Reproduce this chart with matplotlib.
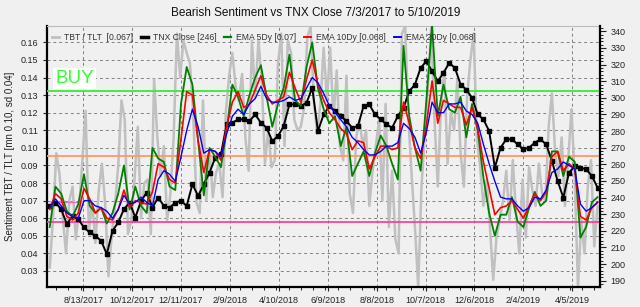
import matplotlib
matplotlib.use("Agg")
import matplotlib.pyplot as plt
import matplotlib.dates as mdates
from matplotlib.lines import Line2D
from matplotlib.ticker import MultipleLocator
import pandas as pd

plt.rcParams['font.family'] = ['Liberation Sans', 'DejaVu Sans']

# weekly samples for EMAs and TNX, 4-day samples for the raw ratio
weeks = pd.date_range('2017-07-03', periods=97, freq='7D')
days4 = pd.date_range('2017-07-03', periods=169, freq='4D')

tbt_tlt = [0.032, 0.060, 0.097, 0.085, 0.060, 0.040, 0.070, 0.078, 0.048, 0.065,
           0.093, 0.121, 0.052, 0.070, 0.046, 0.075, 0.091, 0.068, 0.027, 0.050,
           0.067, 0.090, 0.127, 0.116, 0.051, 0.059, 0.082, 0.112, 0.060, 0.080,
           0.082, 0.051, 0.139, 0.106, 0.084, 0.101, 0.059, 0.074, 0.106, 0.165,
           0.140, 0.161, 0.154, 0.148, 0.120, 0.069, 0.063, 0.127, 0.070, 0.099,
           0.072, 0.086, 0.091, 0.072, 0.120, 0.141, 0.154, 0.135, 0.127, 0.142,
           0.106, 0.087, 0.161, 0.129, 0.161, 0.139, 0.091, 0.110, 0.089, 0.093,
           0.148, 0.165, 0.101, 0.161, 0.154, 0.116, 0.110, 0.112, 0.123, 0.163,
           0.169, 0.127, 0.108, 0.125, 0.157, 0.127, 0.157, 0.116, 0.144, 0.101,
           0.093, 0.141, 0.074, 0.063, 0.106, 0.116, 0.101, 0.110, 0.067, 0.087,
           0.101, 0.116, 0.070, 0.125, 0.055, 0.087, 0.048, 0.040, 0.165, 0.169,
           0.116, 0.084, 0.055, 0.021, 0.078, 0.106, 0.135, 0.169, 0.116, 0.078,
           0.125, 0.144, 0.091, 0.120, 0.110, 0.139, 0.097, 0.078, 0.129, 0.150,
           0.165, 0.105, 0.089, 0.067, 0.082, 0.055, 0.025, 0.049, 0.059, 0.070,
           0.087, 0.059, 0.093, 0.063, 0.040, 0.082, 0.049, 0.089, 0.076, 0.067,
           0.091, 0.074, 0.070, 0.112, 0.131, 0.097, 0.084, 0.106, 0.067, 0.093,
           0.122, 0.082, 0.021, 0.059, 0.040, 0.078, 0.093, 0.044, 0.067]

tnx_close = [235, 237, 233, 224, 229, 227, 222, 219, 217, 214,
             206, 220, 225, 233, 237, 228, 238, 243, 234, 240,
             235, 234, 237, 238, 235, 248, 241, 248, 255, 264,
             266, 284, 285, 287, 287, 286, 290, 285, 282, 274,
             277, 283, 296, 296, 295, 297, 306, 280, 290, 295,
             292, 289, 286, 282, 283, 295, 296, 290, 287, 284,
             282, 289, 294, 304, 308, 318, 322, 316, 310, 315,
             321, 318, 308, 305, 300, 290, 287, 280, 258, 270,
             275, 275, 272, 269, 270, 273, 275, 272, 262, 250,
             240, 255, 259, 258, 257, 253, 246]

ema5 = [0.055, 0.078, 0.074, 0.064, 0.061, 0.068, 0.085, 0.067, 0.063, 0.066,
        0.057, 0.063, 0.074, 0.090, 0.065, 0.078, 0.067, 0.063, 0.100, 0.094,
        0.092, 0.078, 0.076, 0.125, 0.146, 0.136, 0.104, 0.073, 0.100, 0.095,
        0.089, 0.110, 0.136, 0.129, 0.118, 0.130, 0.140, 0.147, 0.129, 0.112,
        0.125, 0.134, 0.153, 0.127, 0.124, 0.146, 0.160, 0.134, 0.122, 0.114,
        0.118, 0.101, 0.112, 0.084, 0.091, 0.098, 0.084, 0.097, 0.107, 0.101,
        0.091, 0.082, 0.158, 0.118, 0.100, 0.087, 0.127, 0.170, 0.118, 0.136,
        0.122, 0.120, 0.129, 0.106, 0.125, 0.110, 0.083, 0.063, 0.050, 0.062,
        0.062, 0.072, 0.058, 0.055, 0.066, 0.075, 0.067, 0.070, 0.098, 0.098,
        0.084, 0.095, 0.092, 0.049, 0.055, 0.069, 0.072]

ema10 = [0.065, 0.074, 0.071, 0.061, 0.059, 0.063, 0.077, 0.071, 0.063, 0.066,
         0.060, 0.059, 0.065, 0.076, 0.066, 0.070, 0.069, 0.068, 0.075, 0.091,
         0.089, 0.082, 0.080, 0.105, 0.132, 0.130, 0.104, 0.086, 0.099, 0.098,
         0.093, 0.112, 0.126, 0.132, 0.123, 0.125, 0.133, 0.141, 0.130, 0.125,
         0.127, 0.129, 0.143, 0.134, 0.126, 0.139, 0.150, 0.136, 0.127, 0.120,
         0.116, 0.111, 0.108, 0.099, 0.104, 0.103, 0.088, 0.095, 0.101, 0.101,
         0.099, 0.100, 0.126, 0.114, 0.100, 0.094, 0.113, 0.138, 0.114, 0.127,
         0.125, 0.123, 0.123, 0.113, 0.123, 0.111, 0.092, 0.077, 0.062, 0.066,
         0.067, 0.070, 0.065, 0.060, 0.067, 0.074, 0.070, 0.075, 0.095, 0.098,
         0.087, 0.091, 0.088, 0.061, 0.059, 0.066, 0.069]

ema20 = [0.066, 0.071, 0.067, 0.063, 0.061, 0.060, 0.070, 0.070, 0.067, 0.066,
         0.064, 0.060, 0.065, 0.073, 0.068, 0.069, 0.072, 0.069, 0.067, 0.082,
         0.087, 0.085, 0.081, 0.095, 0.110, 0.122, 0.112, 0.097, 0.099, 0.098,
         0.095, 0.108, 0.118, 0.122, 0.119, 0.125, 0.128, 0.135, 0.128, 0.126,
         0.126, 0.127, 0.129, 0.127, 0.128, 0.134, 0.140, 0.137, 0.131, 0.124,
         0.120, 0.116, 0.112, 0.106, 0.103, 0.099, 0.096, 0.096, 0.098, 0.101,
         0.101, 0.103, 0.114, 0.111, 0.106, 0.097, 0.109, 0.126, 0.120, 0.120,
         0.125, 0.125, 0.126, 0.121, 0.119, 0.114, 0.102, 0.091, 0.081, 0.072,
         0.071, 0.071, 0.067, 0.064, 0.066, 0.072, 0.071, 0.076, 0.086, 0.088,
         0.092, 0.090, 0.088, 0.068, 0.064, 0.066, 0.069]

buy_level = 0.1324
mean_level = 0.0954
low_level = 0.058

x_labels = ['8/13/2017', '10/12/2017', '12/11/2017', '2/9/2018', '4/10/2018',
            '6/9/2018', '8/8/2018', '10/7/2018', '12/6/2018', '2/4/2019', '4/5/2019']
legend_labels = ['TBT / TLT  [0.067]', 'TNX Close [246]', 'EMA 5Dy [0.07]',
                 'EMA 10Dy [0.068]', 'EMA 20Dy [0.068]']

bg = '#f0f0f0'
fig = plt.figure(figsize=(6.4, 3.07), dpi=100, facecolor=bg)
ax = fig.add_axes([47.3 / 640, 1 - 287 / 307, (600 - 47.3) / 640, (287 - 26) / 307])
ax.set_facecolor(bg)
ax2 = ax.twinx()
ax3 = ax.twinx()

xmin, xmax = pd.Timestamp('2017-06-30'), pd.Timestamp('2019-05-09')
ylo, yhi = 0.0209, 0.1693

# raw ratio + levels
ax.plot(days4, tbt_tlt, color='#c0c0c0', lw=1.8, zorder=2)
ax.axhline(buy_level, color='#33ee33', lw=1.3, zorder=3)
ax.axhline(mean_level, color='#ff9966', lw=1.3, zorder=3)
ax.axhline(low_level, color='#ff3399', lw=1.2, zorder=3)
ax.hlines(0.069, pd.Timestamp('2017-07-03'), pd.Timestamp('2017-08-08'), color='#ff66cc', lw=1.0, zorder=3)

ax.set_xlim(xmin, xmax)
ax.set_ylim(ylo, yhi)
ax.set_yticks([0.03 + 0.01 * k for k in range(14)])
ax.yaxis.set_major_formatter(plt.FuncFormatter(lambda v, p: f'{v:.2f}'))
ax.set_xticks(pd.to_datetime(x_labels, format='%m/%d/%Y'))
ax.set_xticklabels(x_labels)
ax.xaxis.set_minor_locator(mdates.DayLocator(interval=15))
ax.tick_params(axis='both', labelsize=6.5, direction='out', length=3, width=0.8, colors='#222222')
ax.tick_params(axis='x', which='minor', length=2)
ax.grid(True, which='major', ls=(0, (3, 3)), color='#808080', lw=0.7)
ax.set_axisbelow(True)
ax.set_ylabel('Sentiment TBT / TLT [mn 0.10, sd 0.04]', fontsize=7, labelpad=4, color='#222222')
for s in ['left', 'bottom']:
    ax.spines[s].set_linewidth(1.6)
ax.spines['top'].set_color('#bbbbbb')
ax.spines['right'].set_visible(False)

ax.text(0.014, 0.80, 'BUY', transform=ax.transAxes, fontsize=13.5, color='#33ff33',
        ha='left', va='center', zorder=6,
        bbox=dict(facecolor='white', edgecolor='none', pad=1.5))

# TNX on the right axis
ax2.plot(weeks, tnx_close, color='black', lw=1.4, marker='s', ms=2.4)
ax2.set_ylim(186.2, 343.2)
ax2.yaxis.set_major_locator(MultipleLocator(10))
ax2.yaxis.set_minor_locator(MultipleLocator(2))
ax2.tick_params(axis='y', labelsize=6.5, direction='out', length=4, width=0.8, colors='#222222')
ax2.tick_params(axis='y', which='minor', length=2)
for s in ['left', 'top', 'bottom']:
    ax2.spines[s].set_visible(False)
ax2.spines['right'].set_linewidth(1.6)

# EMAs on top
ax3.plot(weeks, ema5, color='#008000', lw=1.3)
ax3.plot(weeks, ema10, color='#ff0000', lw=1.2)
ax3.plot(weeks, ema20, color='#0000ff', lw=1.0)
ax3.set_ylim(ylo, yhi)
ax3.set_xlim(xmin, xmax)
ax3.set_yticks([])
for s in ax3.spines.values():
    s.set_visible(False)

handles = [Line2D([], [], color='#c0c0c0', lw=2),
           Line2D([], [], color='black', lw=2.5),
           Line2D([], [], color='#008000', lw=1.6),
           Line2D([], [], color='#ff0000', lw=1.4),
           Line2D([], [], color='#0000ff', lw=1.4)]
ax3.legend(handles, legend_labels, loc='upper left', bbox_to_anchor=(-0.004, 1.0), ncol=5,
           frameon=False, fontsize=6.2, handlelength=0.8, handletextpad=0.6,
           columnspacing=0.9, borderaxespad=0.4, labelcolor='#333333')

fig.text(0.494, 1 - 13 / 307, 'Bearish Sentiment vs TNX Close 7/3/2017 to 5/10/2019',
         ha='center', va='center', fontsize=8.5, color='#111111')

fig.savefig('out.png', dpi=100, facecolor=bg)
